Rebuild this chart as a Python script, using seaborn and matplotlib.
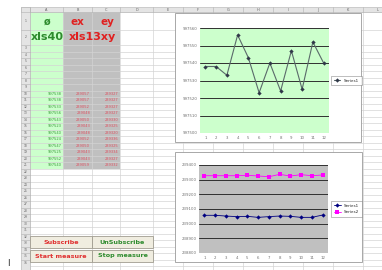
import matplotlib
matplotlib.use("Agg")
import matplotlib.pyplot as plt
from matplotlib.patches import Rectangle
from matplotlib.ticker import FixedFormatter
import numpy as np
import pandas as pd
import seaborn as sns

# ---------------- data ----------------
points = list(range(1, 13))
top_values = [997538, 997538, 997533, 997556, 997543, 997523, 997540, 997524,
              997547, 997525, 997552, 997540]
series1 = [239057, 239057, 239052, 239048, 239050, 239043, 239048, 239052,
           239050, 239043, 239043, 239059]
series2 = [239327, 239327, 239327, 239327, 239330, 239325, 239320, 239336,
           239325, 239334, 239327, 239332]
top_ticks = [997500, 997510, 997520, 997530, 997540, 997550, 997560]
bottom_ticks = [238800, 238900, 239000, 239100, 239200, 239300, 239400]
col_letters = ["A", "B", "C", "D", "E", "F", "G", "H", "I", "J", "K", "L"]
header_a = ["ø", "xls40"]
header_bc = ["ex", "ey", "xls13xy"]
button_labels = ["Subscribe", "UnSubscribe", "Start measure", "Stop measure"]

W, H = 382, 270
sns.set_theme(style="white")
plt.rcParams['font.family'] = ['DejaVu Sans']
fig = plt.figure(figsize=(W / 100, H / 100), dpi=100)
fig.patch.set_facecolor("white")

bg = fig.add_axes([0, 0, 1, 1])
bg.set_xlim(0, W)
bg.set_ylim(H, 0)
bg.axis("off")

def rect(x0, y0, x1, y1, fc, ec="none", lw=0.5, z=1):
    bg.add_patch(Rectangle((x0, y0), x1 - x0, y1 - y0, facecolor=fc,
                           edgecolor=ec, linewidth=lw, zorder=z))

sheet_left, rowhdr_r, top_hdr, hdr_b = 21, 30, 7, 12
grid_c = "#d4d4d4"
col_x = [30, 63, 92, 120, 153, 183, 213, 243, 273, 303, 333, 363, 393]
row_y = [12, 30, 45] + [45 + 6.5 * k for k in range(1, 40)]
row_y = [y for y in row_y if y <= H]

rect(30, 12, 63, 168.5, "#ccffcc", z=1)
rect(63, 12, 120, 168.5, "#c0c0c0", z=1)

for y in row_y:
    bg.plot([rowhdr_r, W], [y, y], color=grid_c, lw=0.5, zorder=2)
for x in col_x:
    bg.plot([x, x], [hdr_b, H], color=grid_c, lw=0.5, zorder=2)

rect(sheet_left, top_hdr, W, hdr_b, "#e4e4e4", ec="#b0b0b0", lw=0.4, z=3)
rect(sheet_left, top_hdr, rowhdr_r, H, "#e4e4e4", ec="#b0b0b0", lw=0.4, z=3)
for i, x in enumerate(col_x[:-1]):
    bg.plot([x, x], [top_hdr, hdr_b], color="#b0b0b0", lw=0.4, zorder=4)
    bg.text((x + col_x[i + 1]) / 2, 9.6, col_letters[i], fontsize=2.5,
            color="#606060", ha="center", va="center", zorder=5)
for i in range(len(row_y) - 1):
    yc = (row_y[i] + row_y[i + 1]) / 2
    bg.plot([sheet_left, rowhdr_r], [row_y[i], row_y[i]], color="#b0b0b0", lw=0.4, zorder=4)
    bg.text(25.5, yc, str(i + 1), fontsize=2.2, color="#606060",
            ha="center", va="center", zorder=5)

bg.text(47, 22, header_a[0], fontsize=7, fontweight="bold", color="#2e8b2e",
        ha="center", va="center", zorder=5)
bg.text(47, 37, header_a[1], fontsize=8, fontweight="bold", color="#2e8b2e",
        ha="center", va="center", zorder=5)
bg.text(77, 22, header_bc[0], fontsize=7.5, fontweight="bold", color="#e02020",
        ha="center", va="center", zorder=5)
bg.text(107, 22, header_bc[1], fontsize=7.5, fontweight="bold", color="#e02020",
        ha="center", va="center", zorder=5)
bg.text(92, 37, header_bc[2], fontsize=8, fontweight="bold", color="#e02020",
        ha="center", va="center", zorder=5)

for k in range(12):
    yc = 45 + 6.5 * (7 + k) + 3.25
    bg.text(62, yc, str(top_values[k]), fontsize=2.6, color="#3a9a3a",
            ha="right", va="center", zorder=5)
    bg.text(90, yc, str(series1[k]), fontsize=2.6, color="#e05060",
            ha="right", va="center", zorder=5)
    bg.text(118.5, yc, str(series2[k]), fontsize=2.6, color="#e05060",
            ha="right", va="center", zorder=5)

btn = [(30, 236, 92, 248, button_labels[0], "#e03030"),
       (92, 236, 153, 248, button_labels[1], "#2e8b2e"),
       (30, 250, 92, 262, button_labels[2], "#e03030"),
       (92, 250, 153, 262, button_labels[3], "#2e8b2e")]
for x0, y0, x1, y1, lab, c in btn:
    rect(x0, y0, x1, y1, "#f0ede0", ec="#a09c90", lw=0.6, z=6)
    bg.text((x0 + x1) / 2, (y0 + y1) / 2, lab, fontsize=4.6, fontweight="bold",
            color=c, ha="center", va="center", zorder=7)

bg.text(8, 263, "I", fontsize=6, color="#202020", ha="center", va="center")

rect(175, 13, 361, 142, "white", ec="#9a9a9a", lw=0.6, z=8)
rect(175, 152, 362, 262, "white", ec="#9a9a9a", lw=0.6, z=8)

def add_ax(x0, y0, x1, y1):
    return fig.add_axes([x0 / W, 1 - y1 / H, (x1 - x0) / W, (y1 - y0) / H], zorder=10)

def style_ax(ax, ticks):
    ax.set_ylim(ticks[0], ticks[-1])
    ax.set_xlim(0.5, 12.5)
    ax.set_yticks(ticks)
    ax.yaxis.set_major_formatter(FixedFormatter([str(t) for t in ticks]))
    ax.set_xticks(points)
    ax.yaxis.grid(True, color="#303030", lw=0.7)
    ax.tick_params(labelsize=2.8, colors="#707070", length=0, pad=2)
    ax.set_xlabel("")
    ax.set_ylabel("")
    for s in ax.spines.values():
        s.set_visible(False)

def style_leg(leg):
    leg.get_frame().set_edgecolor("#707070")
    leg.get_frame().set_linewidth(0.4)
    leg.get_frame().set_boxstyle("square")

# ---------- top chart ----------
ax1 = add_ax(200, 28, 329, 133)
ax1.set_facecolor("#ccffcc")
df1 = pd.DataFrame({"x": points, "y": top_values})
sns.lineplot(data=df1, x="x", y="y", ax=ax1, color="#5a6a6a", lw=0.8,
             marker="D", markersize=2.2, markeredgewidth=0,
             markerfacecolor="#303848", label="Series1", legend=False)
style_ax(ax1, top_ticks)
leg1 = ax1.legend(loc="center left", bbox_to_anchor=(1.01, 0.5), fontsize=3,
                  frameon=True, handlelength=1.5, borderpad=0.4)
style_leg(leg1)

# ---------- bottom chart ----------
ax2 = add_ax(199, 165, 328, 253)
ax2.set_facecolor("#c0c0c0")
df2 = pd.DataFrame({"x": points * 2, "y": series1 + series2,
                    "s": ["Series1"] * 12 + ["Series2"] * 12})
sns.lineplot(data=df2, x="x", y="y", hue="s", style="s", ax=ax2,
             palette={"Series1": "#000080", "Series2": "#ff00ff"},
             markers={"Series1": "D", "Series2": "s"},
             dashes=False, lw=0.6, markersize=2.2, markeredgewidth=0)
style_ax(ax2, bottom_ticks)
leg2 = ax2.legend(loc="center left", bbox_to_anchor=(1.02, 0.5), fontsize=3,
                  frameon=True, handlelength=1.5, borderpad=0.4, title=None)
style_leg(leg2)

fig.savefig("out.png", dpi=100, facecolor="white")
